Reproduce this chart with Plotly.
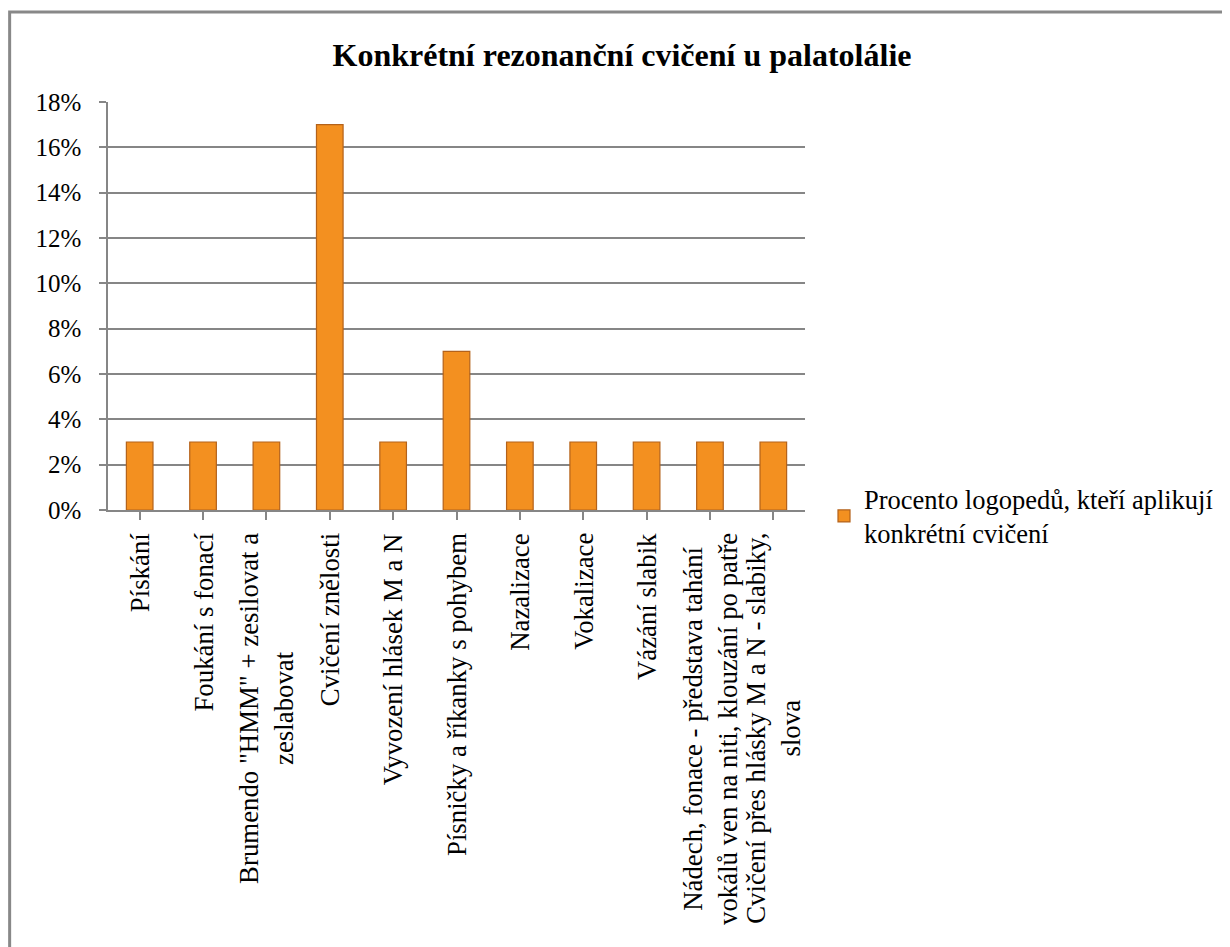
import plotly.graph_objects as go

categories = [
    "Pískání",
    "Foukání s fonací",
    "Brumendo \"HMM\" + zesilovat a<br>zeslabovat",
    "Cvičení znělosti",
    "Vyvození hlásek M a N",
    "Písničky a říkanky s pohybem",
    "Nazalizace",
    "Vokalizace",
    "Vázání slabik",
    "Nádech, fonace - představa tahání<br>vokálů ven na niti, klouzání po patře",
    "Cvičení přes hlásky M a N - slabiky,<br>slova",
]
values = [0.03, 0.03, 0.03, 0.17, 0.03, 0.07, 0.03, 0.03, 0.03, 0.03, 0.03]
series_name = "Procento logopedů, kteří aplikují<br>konkrétní cvičení"
title_text = "Konkrétní rezonanční cvičení u palatolálie"
y_ticks = [0, 0.02, 0.04, 0.06, 0.08, 0.10, 0.12, 0.14, 0.16, 0.18]

FONT = "Liberation Serif"
GRID = "#868686"

OFF = 8  # page body margin
W, H = 1230 - OFF, 947 - OFF
# plot area in page pixels: left 108, right 806, top 102, bottom 510
L, T = 108 - OFF, 102 - OFF
R = W - (806 - OFF)
B = H - (510 - OFF)
pw, ph = W - L - R, H - T - B

fig = go.Figure()
fig.add_trace(go.Bar(
    x=list(range(len(categories))), y=values, name=series_name,
    marker=dict(color="#F39020", line=dict(color="#B4621A", width=1.2)),
    width=0.42, showlegend=True,
))

annotations = []
for i, c in enumerate(categories):
    annotations.append(dict(
        x=i, y=0, xref="x", yref="paper", text=c, showarrow=False,
        textangle=-90, xanchor="center", yanchor="top", yshift=-21,
        align="center", font=dict(family=FONT, size=26.8, color="black"),
    ))

def px2x(px):
    return (px - OFF - L) / pw

def py2y(py):
    return (H - B - (py - OFF)) / ph

shapes = [dict(
    type="rect", xref="paper", yref="paper",
    x0=px2x(9.5), x1=px2x(1260), y0=py2y(990), y1=py2y(12),
    line=dict(color="#888888", width=3), fillcolor="rgba(0,0,0,0)", layer="below",
)]

fig.update_layout(
    width=W, height=H,
    margin=dict(l=L, r=R, t=T, b=B),
    paper_bgcolor="white", plot_bgcolor="white",
    title=dict(text="<b>" + title_text + "</b>", x=(622 - OFF) / W, xanchor="center",
               y=1 - (55 - OFF) / H, yanchor="middle",
               font=dict(family=FONT, size=32, color="black")),
    font=dict(family=FONT, color="black"),
    xaxis=dict(
        range=[-0.5, len(categories) - 0.5], tickmode="array",
        tickvals=list(range(len(categories))), ticktext=[""] * len(categories),
        tickson="boundaries", ticks="outside", ticklen=8, tickcolor=GRID, tickwidth=1.5,
        showline=True, linecolor=GRID, linewidth=1.5, showgrid=False, zeroline=False,
    ),
    yaxis=dict(
        range=[0, 0.18], tickmode="array", tickvals=y_ticks,
        ticktext=[f"{round(v*100)}%" for v in y_ticks],
        ticks="outside", ticklen=7, tickcolor=GRID, tickwidth=1.5,
        showline=True, linecolor=GRID, linewidth=1.5,
        showgrid=True, gridcolor=GRID, gridwidth=1.5, zeroline=False,
        tickfont=dict(family=FONT, size=25, color="black"),
        ticklabelstandoff=13,
    ),
    legend=dict(x=px2x(824), y=py2y(516), xanchor="left", yanchor="middle",
                font=dict(family=FONT, size=26.5, color="black"),
                bgcolor="rgba(0,0,0,0)", itemwidth=30),
    annotations=annotations, shapes=shapes, bargap=0.58,
)

fig.write_html("out.html")
